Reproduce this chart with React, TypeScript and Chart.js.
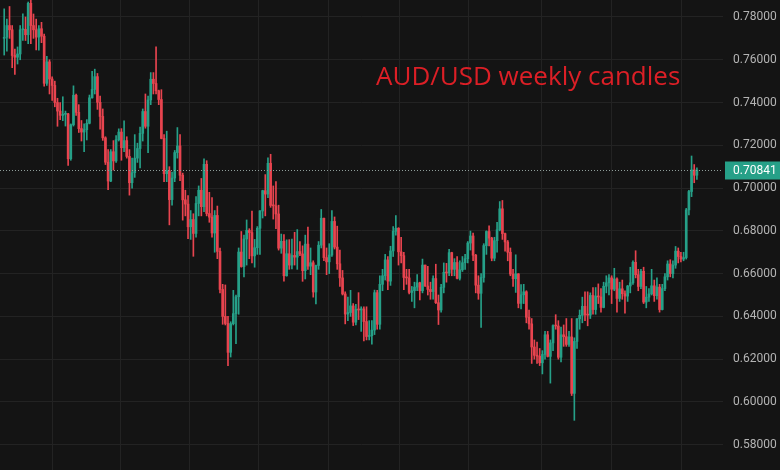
import { useEffect, useRef } from "react";
import { Chart, registerables } from "chart.js";

Chart.register(...registerables);

// Weekly AUD/USD candles (oldest first)
const opens = [
  0.7700, 0.7705, 0.7760, 0.7740, 0.7620, 0.7612, 0.7627, 0.7740, 0.7742, 0.7717,
  0.7864, 0.7760, 0.7740, 0.7706, 0.7745, 0.7710, 0.7490, 0.7590, 0.7510, 0.7480,
  0.7400, 0.7360, 0.7340, 0.7345, 0.7347, 0.7137, 0.7296, 0.7434, 0.7354, 0.7278,
  0.7262, 0.7273, 0.7303, 0.7422, 0.7461, 0.7521, 0.7401, 0.7335, 0.7235, 0.7121,
  0.7033, 0.7170, 0.7127, 0.7226, 0.7262, 0.7189, 0.7222, 0.7148, 0.7025, 0.7072,
  0.7140, 0.7185, 0.7256, 0.7358, 0.7289, 0.7412, 0.7509, 0.7489, 0.7455, 0.7414,
  0.7232, 0.7067, 0.7080, 0.6946, 0.7047, 0.7166, 0.7197, 0.7060, 0.6945, 0.6925,
  0.6819, 0.6853, 0.6788, 0.6928, 0.6990, 0.6913, 0.7111, 0.6881, 0.6864, 0.6790,
  0.6872, 0.6704, 0.6526, 0.6400, 0.6367, 0.6232, 0.6366, 0.6413, 0.6492, 0.6701,
  0.6633, 0.6762, 0.6802, 0.6792, 0.6683, 0.6721, 0.6812, 0.6893, 0.6988, 0.6972,
  0.7116, 0.6919, 0.6917, 0.6879, 0.6719, 0.6751, 0.6590, 0.6693, 0.6640, 0.6685,
  0.6677, 0.6703, 0.6692, 0.6614, 0.6738, 0.6635, 0.6651, 0.6514, 0.6638, 0.6733,
  0.6859, 0.6675, 0.6655, 0.6687, 0.6844, 0.6724, 0.6646, 0.6580, 0.6505, 0.6411,
  0.6418, 0.6449, 0.6373, 0.6433, 0.6430, 0.6435, 0.6376, 0.6306, 0.6310, 0.6336,
  0.6511, 0.6363, 0.6550, 0.6590, 0.6664, 0.6565, 0.6706, 0.6798, 0.6812, 0.6702,
  0.6684, 0.6582, 0.6580, 0.6512, 0.6520, 0.6537, 0.6557, 0.6520, 0.6640, 0.6542,
  0.6526, 0.6516, 0.6577, 0.6464, 0.6430, 0.6536, 0.6606, 0.6603, 0.6698, 0.6620,
  0.6652, 0.6578, 0.6618, 0.6651, 0.6670, 0.6743, 0.6776, 0.6686, 0.6546, 0.6508,
  0.6582, 0.6731, 0.6797, 0.6766, 0.6672, 0.6754, 0.6805, 0.6903, 0.6787, 0.6748,
  0.6700, 0.6598, 0.6576, 0.6599, 0.6461, 0.6501, 0.6515, 0.6396, 0.6365, 0.6257,
  0.6218, 0.6214, 0.6183, 0.6222, 0.6314, 0.6213, 0.6276, 0.6357, 0.6355, 0.6209,
  0.6314, 0.6305, 0.6269, 0.6304, 0.6040, 0.6283, 0.6389, 0.6405, 0.6447, 0.6407,
  0.6406, 0.6498, 0.6432, 0.6495, 0.6491, 0.6442, 0.6541, 0.6557, 0.6580, 0.6527,
  0.6575, 0.6484, 0.6529, 0.6506, 0.6495, 0.6542, 0.6557, 0.6653, 0.6595, 0.6540,
  0.6611, 0.6467, 0.6490, 0.6505, 0.6543, 0.6497, 0.6537, 0.6432, 0.6530, 0.6585,
  0.6645, 0.6600, 0.6640, 0.6705, 0.6680, 0.6668, 0.6675, 0.6898, 0.6984, 0.7085,
  0.7060,
];

const highs = [
  0.7838, 0.7790, 0.7849, 0.7760, 0.7650, 0.7660, 0.7760, 0.7815, 0.7800, 0.7870,
  0.7891, 0.7814, 0.7790, 0.7760, 0.7775, 0.7720, 0.7616, 0.7600, 0.7520, 0.7500,
  0.7420, 0.7400, 0.7427, 0.7360, 0.7350, 0.7300, 0.7478, 0.7440, 0.7390, 0.7316,
  0.7300, 0.7320, 0.7435, 0.7546, 0.7556, 0.7536, 0.7430, 0.7370, 0.7240, 0.7180,
  0.7180, 0.7222, 0.7245, 0.7277, 0.7278, 0.7315, 0.7240, 0.7180, 0.7140, 0.7250,
  0.7210, 0.7285, 0.7370, 0.7440, 0.7430, 0.7540, 0.7540, 0.7661, 0.7458, 0.7460,
  0.7250, 0.7266, 0.7100, 0.7075, 0.7176, 0.7283, 0.7250, 0.7070, 0.6990, 0.6965,
  0.6895, 0.6880, 0.6960, 0.7010, 0.7045, 0.7137, 0.7128, 0.6980, 0.6955, 0.6895,
  0.6916, 0.6720, 0.6550, 0.6547, 0.6400, 0.6375, 0.6522, 0.6500, 0.6720, 0.6797,
  0.6780, 0.6851, 0.6810, 0.6893, 0.6760, 0.6820, 0.6895, 0.6990, 0.7063, 0.7142,
  0.7158, 0.7010, 0.7030, 0.6920, 0.6785, 0.6783, 0.6758, 0.6759, 0.6762, 0.6793,
  0.6806, 0.6750, 0.6730, 0.6780, 0.6818, 0.6720, 0.6660, 0.6640, 0.6750, 0.6900,
  0.6860, 0.6720, 0.6740, 0.6895, 0.6865, 0.6822, 0.6710, 0.6615, 0.6515, 0.6490,
  0.6522, 0.6460, 0.6456, 0.6511, 0.6445, 0.6445, 0.6445, 0.6380, 0.6380, 0.6523,
  0.6522, 0.6590, 0.6620, 0.6690, 0.6680, 0.6728, 0.6820, 0.6871, 0.6815, 0.6770,
  0.6700, 0.6620, 0.6620, 0.6540, 0.6560, 0.6595, 0.6560, 0.6668, 0.6640, 0.6634,
  0.6560, 0.6590, 0.6644, 0.6500, 0.6550, 0.6650, 0.6648, 0.6714, 0.6700, 0.6670,
  0.6680, 0.6660, 0.6680, 0.6690, 0.6750, 0.6799, 0.6790, 0.6690, 0.6590, 0.6600,
  0.6740, 0.6800, 0.6824, 0.6770, 0.6770, 0.6840, 0.6937, 0.6942, 0.6790, 0.6755,
  0.6720, 0.6620, 0.6688, 0.6600, 0.6549, 0.6550, 0.6520, 0.6430, 0.6390, 0.6290,
  0.6280, 0.6250, 0.6240, 0.6330, 0.6330, 0.6290, 0.6360, 0.6408, 0.6380, 0.6350,
  0.6360, 0.6390, 0.6330, 0.6390, 0.6300, 0.6390, 0.6430, 0.6490, 0.6515, 0.6515,
  0.6510, 0.6535, 0.6535, 0.6552, 0.6530, 0.6560, 0.6590, 0.6595, 0.6590, 0.6625,
  0.6580, 0.6560, 0.6570, 0.6520, 0.6545, 0.6630, 0.6660, 0.6707, 0.6620, 0.6620,
  0.6630, 0.6540, 0.6530, 0.6620, 0.6570, 0.6580, 0.6550, 0.6550, 0.6600, 0.6660,
  0.6665, 0.6660, 0.6727, 0.6720, 0.6700, 0.6700, 0.6905, 0.6990, 0.7150, 0.7110,
  0.7095,
];

const lows = [
  0.7622, 0.7640, 0.7700, 0.7563, 0.7531, 0.7580, 0.7600, 0.7690, 0.7690, 0.7675,
  0.7675, 0.7700, 0.7646, 0.7645, 0.7680, 0.7477, 0.7480, 0.7440, 0.7410, 0.7380,
  0.7289, 0.7320, 0.7315, 0.7290, 0.7106, 0.7130, 0.7290, 0.7340, 0.7260, 0.7220,
  0.7170, 0.7225, 0.7300, 0.7420, 0.7440, 0.7368, 0.7276, 0.7223, 0.7110, 0.6993,
  0.7030, 0.7084, 0.7120, 0.7220, 0.7130, 0.7170, 0.7140, 0.6967, 0.7000, 0.7050,
  0.7120, 0.7094, 0.7220, 0.7280, 0.7165, 0.7390, 0.7440, 0.7440, 0.7390, 0.7230,
  0.7030, 0.7030, 0.6828, 0.6920, 0.7030, 0.7140, 0.7035, 0.6850, 0.6870, 0.6763,
  0.6760, 0.6681, 0.6770, 0.6870, 0.6870, 0.6890, 0.6870, 0.6840, 0.6770, 0.6700,
  0.6670, 0.6510, 0.6363, 0.6360, 0.6170, 0.6210, 0.6360, 0.6272, 0.6410, 0.6630,
  0.6585, 0.6640, 0.6670, 0.6650, 0.6630, 0.6690, 0.6690, 0.6860, 0.6870, 0.6955,
  0.6910, 0.6855, 0.6810, 0.6710, 0.6695, 0.6565, 0.6588, 0.6620, 0.6622, 0.6640,
  0.6620, 0.6684, 0.6564, 0.6575, 0.6620, 0.6595, 0.6490, 0.6458, 0.6620, 0.6720,
  0.6660, 0.6595, 0.6600, 0.6680, 0.6715, 0.6620, 0.6540, 0.6500, 0.6365, 0.6380,
  0.6400, 0.6357, 0.6360, 0.6385, 0.6330, 0.6285, 0.6290, 0.6290, 0.6270, 0.6315,
  0.6340, 0.6340, 0.6520, 0.6570, 0.6525, 0.6545, 0.6680, 0.6780, 0.6640, 0.6650,
  0.6525, 0.6550, 0.6505, 0.6470, 0.6440, 0.6520, 0.6477, 0.6510, 0.6540, 0.6500,
  0.6480, 0.6480, 0.6460, 0.6362, 0.6420, 0.6510, 0.6560, 0.6590, 0.6590, 0.6590,
  0.6575, 0.6570, 0.6610, 0.6620, 0.6650, 0.6710, 0.6660, 0.6510, 0.6480, 0.6348,
  0.6560, 0.6690, 0.6730, 0.6660, 0.6660, 0.6700, 0.6800, 0.6760, 0.6705, 0.6660,
  0.6590, 0.6540, 0.6512, 0.6440, 0.6435, 0.6460, 0.6370, 0.6340, 0.6180, 0.6200,
  0.6180, 0.6170, 0.6131, 0.6200, 0.6210, 0.6088, 0.6240, 0.6340, 0.6200, 0.6187,
  0.6260, 0.6260, 0.6260, 0.6030, 0.5914, 0.6250, 0.6340, 0.6370, 0.6380, 0.6356,
  0.6390, 0.6410, 0.6410, 0.6460, 0.6420, 0.6440, 0.6510, 0.6500, 0.6460, 0.6520,
  0.6420, 0.6470, 0.6480, 0.6415, 0.6470, 0.6510, 0.6550, 0.6580, 0.6520, 0.6530,
  0.6460, 0.6440, 0.6470, 0.6500, 0.6470, 0.6480, 0.6420, 0.6430, 0.6520, 0.6570,
  0.6585, 0.6580, 0.6625, 0.6650, 0.6655, 0.6660, 0.6668, 0.6875, 0.6960, 0.7025,
  0.7040,
];

const closes = [
  0.7705, 0.7760, 0.7740, 0.7620, 0.7612, 0.7627, 0.7740, 0.7742, 0.7717, 0.7864,
  0.7760, 0.7740, 0.7706, 0.7745, 0.7710, 0.7490, 0.7590, 0.7510, 0.7480, 0.7400,
  0.7360, 0.7340, 0.7345, 0.7347, 0.7137, 0.7296, 0.7434, 0.7354, 0.7278, 0.7262,
  0.7273, 0.7303, 0.7422, 0.7461, 0.7521, 0.7401, 0.7335, 0.7235, 0.7121, 0.7033,
  0.7170, 0.7127, 0.7226, 0.7262, 0.7189, 0.7222, 0.7148, 0.7025, 0.7072, 0.7140,
  0.7185, 0.7256, 0.7358, 0.7289, 0.7412, 0.7509, 0.7489, 0.7455, 0.7414, 0.7232,
  0.7067, 0.7080, 0.6946, 0.7047, 0.7166, 0.7197, 0.7060, 0.6945, 0.6925, 0.6819,
  0.6853, 0.6788, 0.6928, 0.6990, 0.6913, 0.7111, 0.6881, 0.6864, 0.6790, 0.6872,
  0.6704, 0.6526, 0.6400, 0.6367, 0.6232, 0.6366, 0.6413, 0.6492, 0.6701, 0.6633,
  0.6762, 0.6802, 0.6792, 0.6683, 0.6721, 0.6812, 0.6893, 0.6988, 0.6972, 0.7116,
  0.6919, 0.6917, 0.6879, 0.6719, 0.6751, 0.6590, 0.6693, 0.6640, 0.6685, 0.6677,
  0.6703, 0.6692, 0.6614, 0.6738, 0.6635, 0.6651, 0.6514, 0.6638, 0.6733, 0.6859,
  0.6675, 0.6655, 0.6687, 0.6844, 0.6724, 0.6646, 0.6580, 0.6505, 0.6411, 0.6418,
  0.6449, 0.6373, 0.6433, 0.6430, 0.6435, 0.6376, 0.6306, 0.6310, 0.6336, 0.6511,
  0.6363, 0.6550, 0.6590, 0.6664, 0.6565, 0.6706, 0.6798, 0.6812, 0.6702, 0.6684,
  0.6582, 0.6580, 0.6512, 0.6520, 0.6537, 0.6557, 0.6520, 0.6640, 0.6542, 0.6526,
  0.6516, 0.6577, 0.6464, 0.6430, 0.6536, 0.6606, 0.6603, 0.6698, 0.6620, 0.6652,
  0.6578, 0.6618, 0.6651, 0.6670, 0.6743, 0.6776, 0.6686, 0.6546, 0.6508, 0.6582,
  0.6731, 0.6797, 0.6766, 0.6672, 0.6754, 0.6805, 0.6903, 0.6787, 0.6748, 0.6700,
  0.6598, 0.6576, 0.6599, 0.6461, 0.6501, 0.6515, 0.6396, 0.6365, 0.6257, 0.6218,
  0.6214, 0.6183, 0.6222, 0.6314, 0.6213, 0.6276, 0.6357, 0.6355, 0.6209, 0.6314,
  0.6305, 0.6269, 0.6304, 0.6040, 0.6283, 0.6389, 0.6405, 0.6447, 0.6407, 0.6406,
  0.6498, 0.6432, 0.6495, 0.6491, 0.6442, 0.6541, 0.6557, 0.6580, 0.6527, 0.6575,
  0.6484, 0.6529, 0.6506, 0.6495, 0.6542, 0.6557, 0.6653, 0.6595, 0.6540, 0.6611,
  0.6467, 0.6490, 0.6505, 0.6543, 0.6497, 0.6537, 0.6432, 0.6530, 0.6585, 0.6645,
  0.6600, 0.6640, 0.6705, 0.6680, 0.6668, 0.6675, 0.6898, 0.6984, 0.7085, 0.7060,
  0.70841,
];

// Price-axis tick labels
const priceTicks = [0.58, 0.6, 0.62, 0.64, 0.66, 0.68, 0.7, 0.72, 0.74, 0.76, 0.78];
// Half-year vertical grid lines, in candle-index units
const timeGridTicks = [18.3, 43.5, 69.7, 95.6, 121.9, 148.3, 174.2, 201.8, 227.8, 254.3];
const chartTitle = "AUD/USD weekly candles";

const BG = "#141414";
const GRID = "#232323";
const UP = "#26a088";
const DOWN = "#e8444f";

export default function App() {
  const ref = useRef<HTMLCanvasElement | null>(null);

  useEffect(() => {
    document.body.style.margin = "0";
    document.body.style.background = BG;
    const canvas = ref.current;
    if (!canvas) return;

    const colors = closes.map((c, i) => (c >= opens[i] ? UP : DOWN));
    const wicks = closes.map((_, i) => ({ x: i, y: [lows[i], highs[i]] }));
    const bodies = closes.map((c, i) => ({ x: i, y: [opens[i], c] }));
    const last = closes[closes.length - 1];
    const lastColor = last >= opens[opens.length - 1] ? UP : DOWN;

    const deco = {
      id: "deco",
      beforeDraw(chart: any) {
        const ctx = chart.ctx;
        ctx.save();
        ctx.fillStyle = BG;
        ctx.fillRect(0, 0, chart.width, chart.height);
        ctx.restore();
      },
      afterDraw(chart: any) {
        const ctx = chart.ctx;
        const ys = chart.scales.y;
        const area = chart.chartArea;
        const y = Math.round(ys.getPixelForValue(last)) + 0.5;
        ctx.save();
        // last price dotted line
        ctx.strokeStyle = "#8f9e9a";
        ctx.lineWidth = 1;
        ctx.setLineDash([1, 2]);
        ctx.beginPath();
        ctx.moveTo(area.left, y);
        ctx.lineTo(area.right, y);
        ctx.stroke();
        ctx.setLineDash([]);
        // price tag
        ctx.fillStyle = lastColor;
        ctx.fillRect(area.right + 2, y - 9, chart.width - area.right - 2, 18);
        ctx.fillStyle = "#ffffff";
        ctx.font = "12px Roboto";
        ctx.textBaseline = "middle";
        ctx.textAlign = "left";
        ctx.fillText(last.toFixed(5), area.right + 10, y);
        // title
        ctx.fillStyle = "#dc1f26";
        ctx.font = "26px 'Open Sans'";
        ctx.textBaseline = "alphabetic";
        ctx.fillText(chartTitle, area.left + 376, area.top + 85);
        ctx.restore();
      },
    };

    const chart = new Chart(canvas, {
      type: "bar",
      data: {
        datasets: [
          {
            data: bodies as any,
            backgroundColor: colors,
            barThickness: 2,
            grouped: false,
            order: 0,
            minBarLength: 1,
            borderWidth: 0,
          },
          {
            data: wicks as any,
            backgroundColor: colors,
            barThickness: 1,
            grouped: false,
            order: 1,
            borderWidth: 0,
          },
        ],
      },
      options: {
        animation: false,
        responsive: false,
        devicePixelRatio: 1,
        layout: { padding: 0 },
        plugins: { legend: { display: false }, tooltip: { enabled: false } },
        scales: {
          x: {
            type: "linear",
            min: -1.577,
            max: 269.8,
            offset: false,
            grid: { color: GRID, drawTicks: false, offset: false },
            border: { display: false },
            ticks: { display: false },
            afterBuildTicks: (s: any) => {
              s.ticks = timeGridTicks.map((v) => ({ value: v }));
            },
            afterFit: (s: any) => {
              s.height = 0;
              s.paddingLeft = 0;
              s.paddingRight = 0;
              s.paddingTop = 0;
              s.paddingBottom = 0;
            },
          },
          y: {
            position: "right",
            min: 0.56818,
            max: 0.78794,
            beginAtZero: false,
            grid: { color: GRID, drawTicks: false },
            border: { display: false },
            ticks: {
              color: "#b4b4b4",
              font: { family: "Roboto", size: 12 },
              padding: 10,
              callback: (v: any) => Number(v).toFixed(5),
            },
            afterBuildTicks: (s: any) => {
              s.ticks = priceTicks.map((v) => ({ value: v }));
            },
            afterFit: (s: any) => {
              s.width = 57;
              s.paddingTop = 0;
              s.paddingBottom = 0;
              s.paddingLeft = 0;
              s.paddingRight = 0;
            },
          },
        },
      } as any,
      plugins: [deco],
    });
    return () => chart.destroy();
  }, []);

  return (
    <div style={{ position: "fixed", left: 0, top: 0, width: 780, height: 470, background: BG }}>
      <canvas ref={ref} width={780} height={470} style={{ display: "block" }} />
    </div>
  );
}
